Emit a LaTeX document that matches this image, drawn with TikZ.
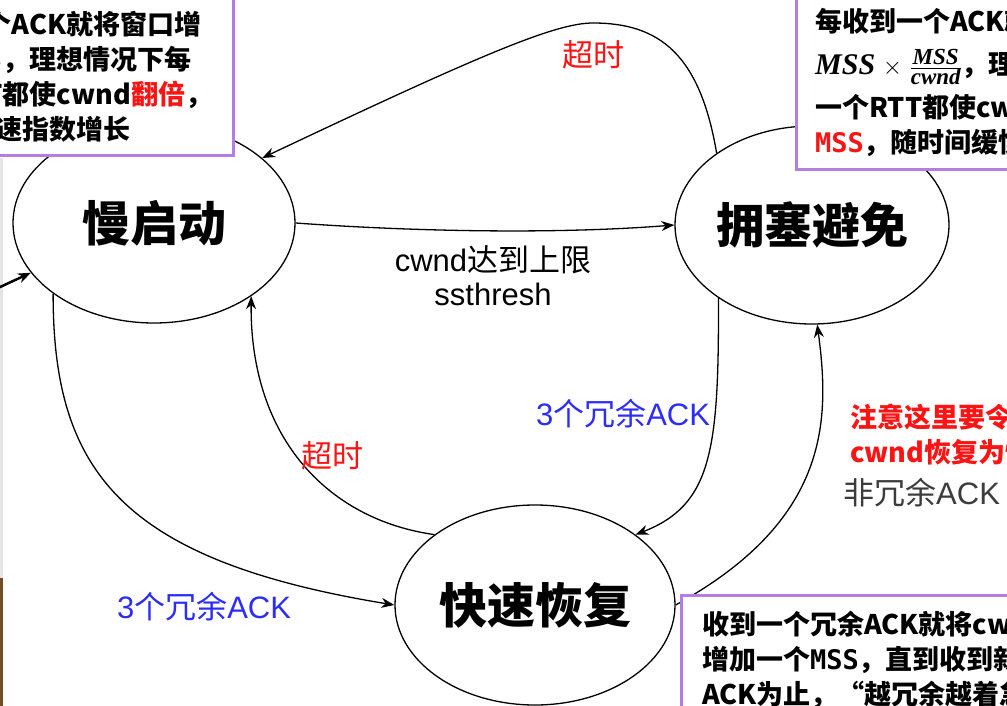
\documentclass[tikz,border=0pt]{standalone}
\usepackage{fontspec}
\setmainfont{Liberation Sans}
\newfontfamily\cjk{Noto Sans CJK SC}
\newfontfamily\mono{DejaVu Sans Mono}
\newfontfamily\mathserif{Liberation Serif}
\usetikzlibrary{shapes.geometric,arrows.meta}

\definecolor{notepurple}{RGB}{180,125,230}
\definecolor{labelred}{RGB}{250,20,20}
\definecolor{labelblue}{RGB}{45,45,250}
\definecolor{labelgray}{RGB}{60,60,60}

\newcommand{\mssbig}{\mathserif\bfseries\itshape\fontsize{30}{30}\selectfont}
\newcommand{\msssmall}{\mathserif\bfseries\itshape\fontsize{23}{23}\selectfont}

\tikzset{
  notebox/.style={rectangle,draw=notepurple,line width=3pt,fill=white,inner sep=0pt},
  notetext/.style={align=left,inner sep=0pt,anchor=north west,
    font=\cjk\bfseries\fontsize{27}{35}\selectfont},
  edgelabel/.style={inner sep=0pt,font=\fontsize{31}{34}\selectfont}
}

\begin{document}
\begin{tikzpicture}[x=1pt,y=-1pt,>={Stealth[length=13pt,width=10pt]}]

      \useasboundingbox (0,0) rectangle (1007,706);
      \fill[white] (0,0) rectangle (1007,706);
      \fill[gray!20] (0,158) rectangle (3,578);
      \fill[brown!60!black] (0,578) rectangle (3,706);

      \begin{scope}[every node/.style={ellipse,draw,line width=1.3pt,inner sep=0pt,
          font=\cjk\bfseries\fontsize{48}{48}\selectfont}]
        \node[minimum width=282pt,minimum height=200pt] (ss) at (154,223) {慢启动};
        \node[minimum width=274pt,minimum height=198pt] (ca) at (812,225) {拥塞避免};
        \node[minimum width=280pt,minimum height=200pt] (fr) at (535,605) {快速恢复};
      \end{scope}

      \coordinate (entry) at (-15,294);

      \begin{scope}[line width=1.3pt]
        \draw[->] (ss.0) .. controls (420,232) and (560,234) .. (ca.180);
        \draw[->] (ca.143) .. controls (700,55) and (660,23) .. (593,23)
                  .. controls (555,23) and (480,55) .. (ss.31);
        \draw[->] (ss.215) .. controls (53,470) and (120,560) .. (fr.180);
        \draw[->] (fr.145) .. controls (330,520) and (250,440) .. (ss.-37);
        \draw[->] (ca.218) .. controls (719,450) and (712,505) .. (fr.35);
        \draw[->] (fr.0) .. controls (830,520) and (830,420) .. (ca.273);
        \draw[->,line width=2.5pt] (entry) -- (ss.202);
      \end{scope}

      % labels on the transitions
      \begin{scope}[every node/.style={edgelabel}]
        \node[text=labelred] (timeouttop) at (593,55) {\cjk 超时};
        \node[align=center] (reach) at (493,276) {cwnd{\cjk 达到上限}\\ssthresh};
        \node[text=labelblue] (dupright) at (623,414) {3{\cjk 个冗余}ACK};
        \node[text=labelred] (timeoutlow) at (332,456) {\cjk 超时};
        \node[text=labelblue] (dupleft) at (204,607) {3{\cjk 个冗余}ACK};
        \node[text=labelgray,anchor=west] (newack) at (843,493) {{\cjk 非冗余}ACK};
      \end{scope}

      \node[notetext,text=labelred] (warn) at (850,404) {注意这里要令\\cwnd恢复为慢启动};

      % notes
      \node[notebox,minimum width=260pt,minimum height=180pt,anchor=south east] (ssnote) at (235,157) {};
      \node[notebox,minimum width=260pt,minimum height=200pt,anchor=south west] (canote) at (795,171) {};
      \node[notebox,minimum width=360pt,minimum height=150pt,anchor=north west] (frnote) at (680,594) {};

      \node[notetext] (sstext) at (-32,11) {1个ACK就将窗口增\\
        SS，理想情况下每\\
        TT都使cwnd\textcolor{labelred}{翻倍}，\\
        加速指数增长};
      \node[notetext] (catext) at (815,8) {每收到一个ACK就将cwnd增加\\[8pt]
        {\mssbig MSS}\;$\times$\;$\frac{\hbox{\msssmall MSS}}{\hbox{\msssmall cwnd}}$，理想情况下每\\[8pt]
        一个RTT都使cwnd增加一个\\
        \textcolor{labelred}{\mono\bfseries MSS}，随时间缓慢线性增长};
      \node[notetext] (frtext) at (702,611) {收到一个冗余ACK就将cwnd\\
        增加一个{\mono\bfseries MSS}，直到收到新的\\
        ACK为止，“越冗余越着急”};

    \end{tikzpicture}
\end{document}
